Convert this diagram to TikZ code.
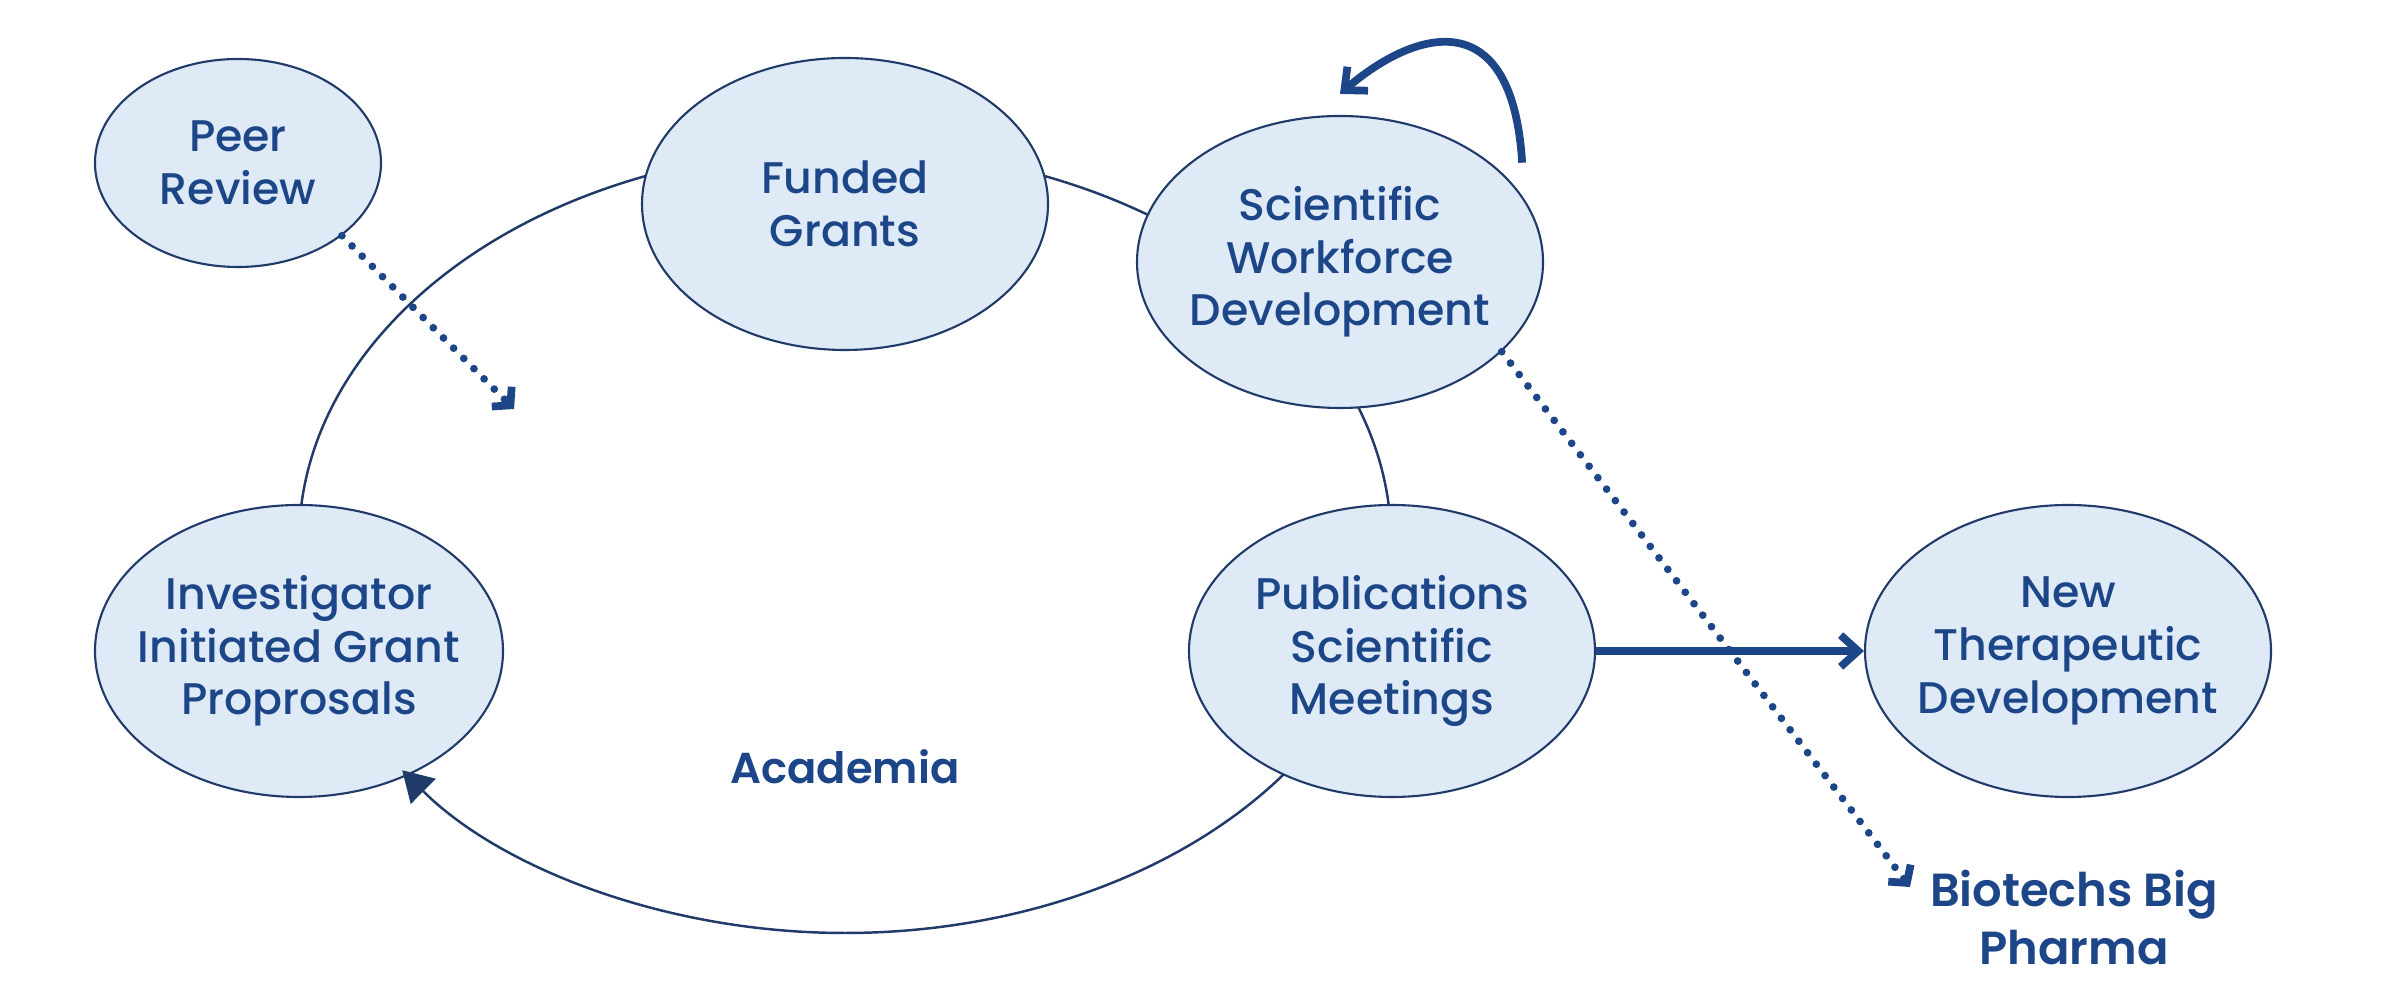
\documentclass[tikz,border=0pt]{standalone}
\usepackage{fontspec}
\setmainfont{Poppins}[UprightFont={Poppins Medium},BoldFont={Poppins SemiBold}]
\usetikzlibrary{shapes.geometric,arrows.meta,calc}
\definecolor{cellfill}{RGB}{222,234,246}
\definecolor{celledge}{RGB}{32,58,105}
\definecolor{inkblue}{RGB}{28,70,135}
\begin{document}
\begin{tikzpicture}[
  every node/.style={font=\fontsize{12.6}{15}\selectfont,text=inkblue,align=center},
  cell/.style={ellipse,draw=celledge,fill=cellfill,line width=0.6pt,inner xsep=-0.3cm,inner ysep=0pt,minimum width=4.06cm,minimum height=2.92cm},
  ringline/.style={draw=celledge,line width=0.7pt},
  dotarrow/.style={draw=inkblue,line width=2.2pt,line cap=round,dash pattern=on 0pt off 4.1pt,-{Straight Barb[length=3.5pt,width=8pt]}},
  boldarrow/.style={draw=inkblue,line width=2.2pt,-{Straight Barb[length=5pt,width=9pt]}},
  heading/.style={font=\fontsize{13.2}{16.5}\selectfont\bfseries}
]
\useasboundingbox (0,0) rectangle (23.91,10.08);
% the academia ring, upper part only; the cells cover it
\coordinate (ringc) at (8.45,4.67);
\draw[ringline] ($(ringc)+(323.4:5.46cm and 3.92cm)$)
  arc[start angle=323.4,end angle=575.8,x radius=5.46cm,y radius=3.92cm];

\node[cell,minimum width=2.86cm,minimum height=2.08cm] (peer) at (2.38,8.45) {Peer\\Review};
\node[cell] (funded) at (8.45,8.04) {Funded\\Grants};
\node[cell] (work) at (13.40,7.46) {Scientific\\Workforce\\Development};
\node[cell,minimum width=4.08cm] (invest) at (2.99,3.57) {Investigator\\Initiated Grant\\Proprosals};
\node[cell] (pubs) at (13.92,3.57) {Publications\\Scientific\\Meetings};
\node[cell] (newther) at (20.68,3.57) {New\\Therapeutic\\Development};

\node[heading,font=\fontsize{12.3}{15}\selectfont\bfseries] (academia) at (8.45,2.41) {Academia};
\node[heading] (biotech) at (20.74,0.90) {Biotechs Big\\Pharma};
\coordinate (prtip) at (5.14,5.99);
\coordinate (bptip) at (19.10,1.21);

% arrows
\draw[ringline,-{Triangle[length=8.5pt,width=10pt]}] ($(ringc)+(323.4:5.46cm and 3.92cm)$)
  arc[start angle=323.4,end angle=215.8,x radius=5.46cm,y radius=3.92cm];
\draw[dotarrow] (peer.-35) -- (prtip);
\draw[dotarrow] (work.-29) -- (bptip);
\draw[boldarrow] (pubs.east) -- (newther.west);
\draw[boldarrow] ([yshift=0.33cm]work.20) .. controls (15.12,10.1) and (14.12,9.76) .. ([yshift=0.21cm]work.north);
\end{tikzpicture}
\end{document}
